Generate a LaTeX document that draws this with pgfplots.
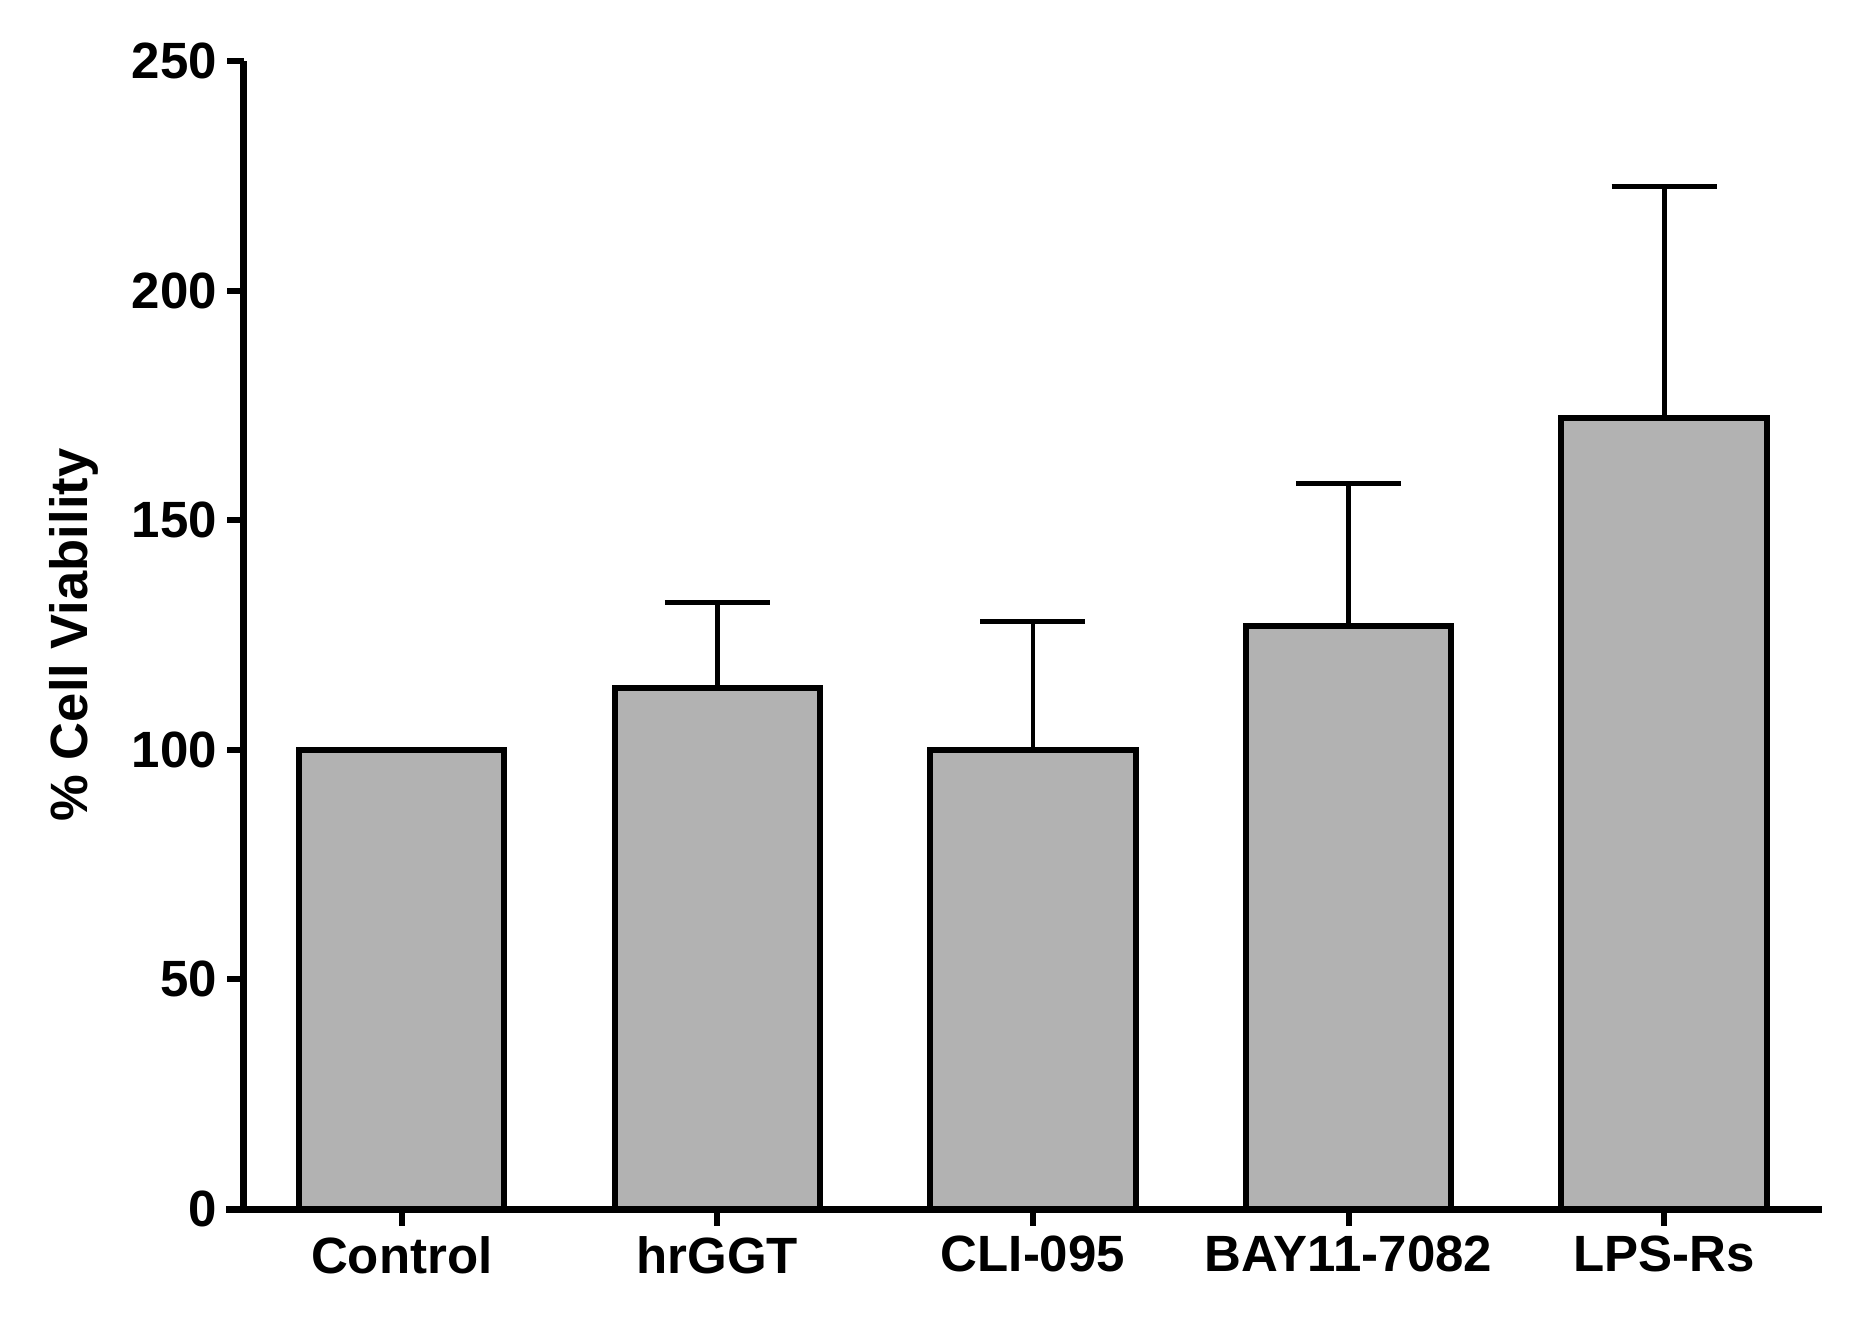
\documentclass[border=0pt]{standalone}
\usepackage{pgfplots}
\pgfplotsset{compat=1.18}
\usepackage{pgfplotstable}
\usepackage{fontspec}
\setmainfont{Liberation Sans}
\usetikzlibrary{calc}

% bar values and upper SEM
\pgfplotstableread{
x y err
0 100   0
1 113.5 18.5
2 100   27.9
3 127   31.0
4 172.3 50.4
}\viab

\begin{document}
\begin{tikzpicture}
\begin{axis}[
  name=ax,
  scale only axis,
  width=526pt, height=382.7pt,
  xmin=-0.5, xmax=4.5,
  ymin=0, ymax=250,
  enlargelimits=false,
  axis lines=left,
  axis line style={-, line width=2.3pt},
  xtick=data,
  xticklabels={Control, hrGGT, CLI-095, BAY11-7082, LPS-Rs},
  ytick={0,50,...,250},
  tick align=outside,
  major tick length=5.5pt,
  tick style={line width=2pt, black},
  /pgf/number format/assume math mode=true,
  ticklabel style={font=\fontsize{17}{20}\selectfont\bfseries},
  ylabel={\% Cell Viability},
  ylabel style={font=\fontsize{17.5}{20}\selectfont\bfseries,
    at={(axis description cs:-0.108,0.5)}, anchor=center},
  ybar,
  bar width=68.5pt,
]
\addplot[fill=black!30, draw=black, line width=2pt,
  error bars/.cd, y dir=plus, y explicit,
  error bar style={line width=1.6pt, black},
  error mark=-,
  error mark options={rotate=90, black, line width=1.6pt, mark size=17.5pt}]
  table[x=x, y=y, y error=err] {\viab};
\end{axis}
\draw[line width=2.3pt] ([xshift=-6pt]ax.south west) -- (ax.south west);
\pgfresetboundingbox
\path[use as bounding box] ($(ax.south west)+(-81.3pt,-38pt)$) rectangle ($(ax.north east)+(12pt,20.3pt)$);
\end{tikzpicture}
\end{document}
